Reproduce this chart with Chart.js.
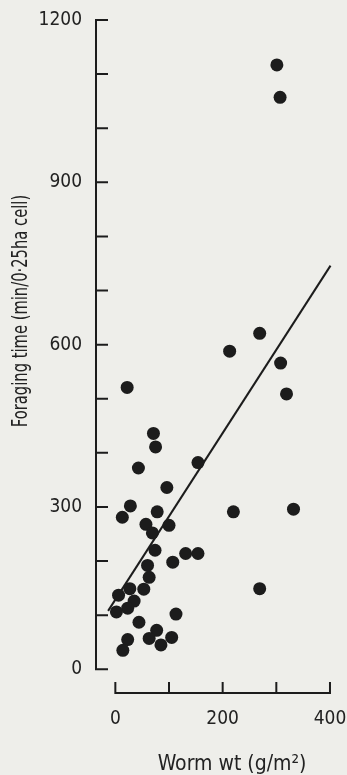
<!DOCTYPE html>
<html><head><meta charset="utf-8">
<script src="https://cdn.jsdelivr.net/npm/chart.js@4/dist/chart.umd.min.js"></script>
<style>html,body{margin:0;padding:0;background:#eeeeea;} canvas{display:block;}</style>
</head><body>
<canvas id="c" width="347" height="775"></canvas>
<script>
// Worm weight (g/m2) and foraging time (min / 0.25 ha cell) for each cell
const wormWt       = [301, 307, 269, 213, 308, 319, 22, 71, 75, 43, 154, 96, 28, 13, 78, 220, 332, 57, 100, 69, 74, 107, 131, 154, 60, 63, 53, 27, 6, 35, 23, 2, 269, 113, 44, 77, 105, 63, 85, 23, 14];
const foragingTime = [1117, 1057, 621, 588, 566, 509, 521, 436, 411, 372, 382, 336, 302, 281, 291, 291, 296, 268, 266, 252, 220, 198, 214, 214, 192, 170, 148, 149, 137, 126, 113, 106, 149, 102, 87, 72, 59, 57, 45, 55, 35];
// fitted regression line end points
const fitX = [-13.5, 401];
const fitY = [108, 746];
// axes
const xTicks = [0, 100, 200, 300, 400];
const xTickLabels = ['0', '', '200', '', '400'];
const yTicks = [0, 100, 200, 300, 400, 500, 600, 700, 800, 900, 1000, 1100, 1200];
const yTickLabels = ['0', '', '', '300', '', '', '600', '', '', '900', '', '', '1200'];
const xTitle = 'Worm wt (g/m²)';
const yTitle = 'Foraging time (min/0·25ha cell)';

const INK = '#1c1c1c';
const TXT = '#222222';
const FONT = "'Liberation Sans Narrow', 'DejaVu Sans Condensed', sans-serif";

const bgPlugin = {
  id: 'bg',
  beforeDraw(chart) {
    const c = chart.ctx; c.save(); c.fillStyle = '#eeeeea';
    c.fillRect(0, 0, chart.width, chart.height); c.restore();
  }
};

const axesPlugin = {
  id: 'frameAxes',
  afterDraw(chart) {
    const {ctx, chartArea, scales: {x, y}} = chart;
    ctx.save();
    ctx.strokeStyle = INK; ctx.lineWidth = 2; ctx.lineCap = 'butt';
    // y axis: line from 0 to 1200 with inward ticks
    const ax = chartArea.left;
    const yTop = y.getPixelForValue(yTicks[yTicks.length - 1]);
    const yBot = y.getPixelForValue(yTicks[0]);
    ctx.beginPath();
    ctx.moveTo(ax, yTop - 1); ctx.lineTo(ax, yBot + 1);
    yTicks.forEach(v => { const p = y.getPixelForValue(v); ctx.moveTo(ax, p); ctx.lineTo(ax + 12, p); });
    ctx.stroke();
    // x axis: detached line below, 0..400, upward ticks
    const ay = chartArea.bottom;
    const xL = x.getPixelForValue(xTicks[0]);
    const xR = x.getPixelForValue(xTicks[xTicks.length - 1]);
    ctx.beginPath();
    ctx.moveTo(xL - 1, ay); ctx.lineTo(xR + 1, ay);
    xTicks.forEach(v => { const p = x.getPixelForValue(v); ctx.moveTo(p, ay); ctx.lineTo(p, ay - 11); });
    ctx.stroke();
    // axis titles
    ctx.fillStyle = TXT;
    ctx.textAlign = 'center'; ctx.textBaseline = 'alphabetic';
    ctx.font = '21px ' + FONT;
    ctx.fillText(xTitle, chartArea.left + 136, chart.height - 5);
    ctx.translate(27, chartArea.top + 291);
    ctx.rotate(-Math.PI / 2);
    ctx.scale(0.78, 1);
    ctx.fillText(yTitle, 0, 0);
    ctx.restore();
  }
};

new Chart(document.getElementById('c'), {
  type: 'scatter',
  data: {
    datasets: [
      { type: 'line', data: fitX.map((v, i) => ({x: v, y: fitY[i]})), borderColor: INK, borderWidth: 2,
        pointRadius: 0, fill: false, tension: 0, order: 2 },
      { data: wormWt.map((v, i) => ({x: v, y: foragingTime[i]})), backgroundColor: INK, borderWidth: 0,
        pointRadius: 6.5, pointHoverRadius: 6.5, order: 1 }
    ]
  },
  options: {
    responsive: false, devicePixelRatio: 1, animation: false, events: [],
    layout: { padding: { left: 0, right: 2, top: 20, bottom: 0 } },
    plugins: { legend: { display: false }, tooltip: { enabled: false } },
    scales: {
      x: {
        type: 'linear', min: -36.05, max: 419.6,
        grid: { display: false, drawTicks: false }, border: { display: false },
        afterBuildTicks: s => { s.ticks = xTicks.map(v => ({value: v})); },
        afterFit: s => { s.height = 82; s.paddingLeft = 0; s.paddingRight = 0; },
        ticks: { callback: v => xTickLabels[xTicks.indexOf(v)], padding: 15, color: TXT,
                 font: { family: FONT, size: 19 }, maxRotation: 0, autoSkip: false }
      },
      y: {
        type: 'linear', min: -43.8, max: 1200,
        grid: { display: false, drawTicks: false }, border: { display: false },
        afterBuildTicks: s => { s.ticks = yTicks.map(v => ({value: v})); },
        afterFit: s => { s.width = 96; s.paddingTop = 0; s.paddingBottom = 0; },
        ticks: { callback: v => yTickLabels[yTicks.indexOf(v)], padding: 14, color: TXT,
                 font: { family: FONT, size: 19 }, autoSkip: false }
      }
    }
  },
  plugins: [bgPlugin, axesPlugin]
});
</script>
</body></html>
